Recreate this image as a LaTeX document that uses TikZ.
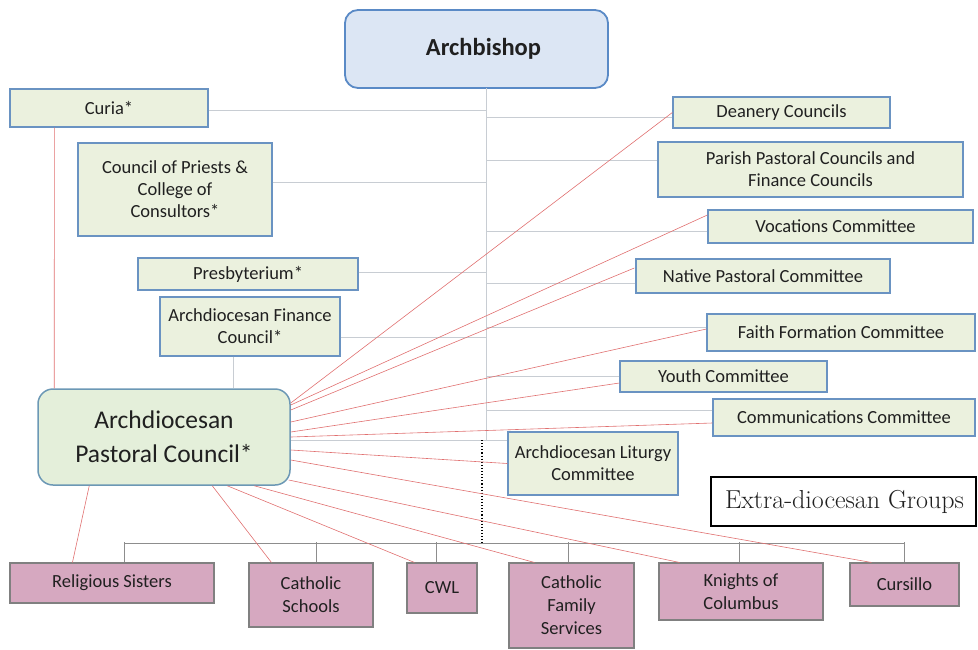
\documentclass[tikz,border=0pt]{standalone}
\usepackage{fontspec}
\newfontfamily\calfont{Carlito}
\usetikzlibrary{calc}
\definecolor{gfill}{HTML}{EBF1DE}
\definecolor{gbord}{HTML}{6A93C2}
\definecolor{afill}{HTML}{DCE6F4}
\definecolor{abord}{HTML}{5A8AC6}
\definecolor{pfill}{HTML}{D6A8C0}
\definecolor{pbord}{HTML}{808080}
\definecolor{pcfill}{HTML}{E4EFDA}
\definecolor{pcbord}{HTML}{6C98B5}
\definecolor{redl}{HTML}{E07070}
\definecolor{grayl}{HTML}{C8CDD3}
\definecolor{txt}{HTML}{202020}
\tikzset{
  gbox/.style 2 args={draw=gbord, fill=gfill, line width=1.3pt, text=txt, align=center,
    inner sep=0pt, minimum width=#1, minimum height=#2,
    font=\calfont\fontsize{18.5}{22}\selectfont},
  pbox/.style 2 args={draw=pbord, fill=pfill, line width=1.1pt, text=txt, align=center,
    inner sep=0pt, minimum width=#1, minimum height=#2,
    font=\calfont\fontsize{18.5}{23}\selectfont},
  redline/.style={draw=redl, line width=0.6pt},
  grayline/.style={draw=grayl, line width=0.8pt},
  barline/.style={draw=pbord!90, line width=0.9pt},
}
\begin{document}
\begin{tikzpicture}[x=1pt,y=-1pt]
\useasboundingbox (0,0) rectangle (978,649);
% ---------- nodes ----------
\node[draw=abord, fill=afill, line width=1.8pt, rounded corners=13pt, minimum width=263pt,
  minimum height=78pt, inner sep=0pt, text=txt, font=\calfont\bfseries\fontsize{24.5}{28}\selectfont]
  (arch) at (476.5,49) {\hspace*{14pt}Archbishop};
\node[gbox={198pt}{38pt}] (curia) at (109,108) {Curia*};
\node[gbox={194pt}{93pt}] (cop) at (175,189.5) {Council of Priests \&\\College of\\Consultors*};
\node[gbox={220pt}{32pt}] (presb) at (248,274) {Presbyterium*};
\node[gbox={180pt}{59pt}] (afc) at (250,326.5) {Archdiocesan Finance\\Council*};
\node[draw=pcbord, fill=pcfill, line width=1.5pt, rounded corners=15pt, minimum width=252pt,
  minimum height=96pt, inner sep=0pt, text=txt, align=center,
  font=\calfont\fontsize{25.5}{34}\selectfont] (apc) at (164,437) {Archdiocesan\\Pastoral Council*};
\node[gbox={217pt}{31pt}] (dean) at (781.5,112.5) {Deanery Councils};
\node[gbox={305pt}{55pt}] (parish) at (810.5,169.5) {Parish Pastoral Councils and\\Finance Councils};
\node[gbox={265pt}{33pt}] (voc) at (840.5,226.5) {\hspace*{-10pt}Vocations Committee};
\node[gbox={254pt}{34pt}] (native) at (763,276) {Native Pastoral Committee};
\node[gbox={268pt}{37pt}] (faith) at (841,332.5) {Faith Formation Committee};
\node[gbox={207pt}{31pt}] (youth) at (723.5,376.5) {Youth Committee};
\node[gbox={262pt}{37pt}] (comm) at (844,417.5) {Communications Committee};
\node[gbox={170pt}{63pt}] (litur) at (593,463.5) {Archdiocesan Liturgy\\Committee};
\node[draw=black, fill=white, line width=2.6pt, minimum width=265pt, minimum height=49pt,
  inner sep=0pt, text=txt, font=\rmfamily\fontsize{26}{28}\selectfont]
  (extra) at (843.5,501.5) {\hspace*{2pt}Extra-diocesan Groups};
\node[pbox={204pt}{40pt}] (rs) at (112,583) {Religious Sisters};
\node[pbox={124pt}{64pt}] (cs) at (311,595) {Catholic\\Schools};
\node[pbox={70pt}{50pt}] (cwl) at (442,588) {CWL};
\node[pbox={125pt}{85pt}] (cfs) at (571.5,605.5) {Catholic\\Family\\Services};
\node[pbox={164pt}{57pt}] (kc) at (741,591.5) {Knights of\\Columbus};
\node[pbox={109pt}{43pt}] (cur) at (904.5,584.5) {Cursillo};
% ---------- coordinates ----------
\coordinate (spT) at (486,88);
\coordinate (spB) at (486,440);
\coordinate (dotT) at (482,440);
\coordinate (barL) at (124,543);
\coordinate (barR) at (904,543);
% ---------- gray hierarchy lines ----------
\draw[grayline] (spT) -- (spB);
\coordinate (c1) at ([yshift=-2pt]curia.east);
\coordinate (c2) at ([yshift=7.5pt]cop.east);
\coordinate (c3) at ([yshift=2pt]presb.east);
\coordinate (c4) at ([yshift=-10.5pt]afc.east);
\coordinate (c5) at ([yshift=-3pt]apc.east);
\coordinate (d1) at ([yshift=-4.5pt]dean.west);
\coordinate (d2) at ([yshift=9.5pt]parish.west);
\coordinate (d3) at ([yshift=-4.5pt]voc.west);
\coordinate (d4) at ([yshift=-7pt]native.west);
\coordinate (d5) at ([yshift=5.5pt]faith.west);
\coordinate (d6) at (youth.west);
\coordinate (d7) at ([yshift=7.5pt]comm.west);
\coordinate (d8) at ([yshift=23.5pt]litur.west);
\foreach \p in {c1,c2,c3,c4,c5,d1,d2,d3,d4,d5,d6,d7,d8} \draw[grayline] (\p) -- (\p -| spT);
\draw[grayline] ([xshift=-17pt]afc.south) -- ([xshift=-17pt]afc.south |- apc.north);
% ---------- bottom bar ----------
\draw[barline] (barL) -- (barR);
\draw[barline] ($(rs.north)+(12,0)$) -- ++(0,-20);
\draw[barline] ($(cs.north)+(5,0)$) -- ++(0,-20);
\draw[barline] ($(cwl.north)+(-6,0)$) -- ++(0,-20);
\draw[barline] ($(cfs.north)+(-3.5,0)$) -- ++(0,-20);
\draw[barline] ($(kc.north)+(-2,0)$) -- ++(0,-20);
\draw[barline] (cur.north) -- ++(0,-20);
\draw[black, line width=1.1pt, dotted] (dotT) -- (dotT |- barL);
% ---------- red lines ----------
\draw[redline] (curia.south west) ++(45,0) -- ($(apc.north west)+(17,0)$);
\draw[redline] ($(apc.east)+(0,-34)$) -- (dean.west);
\draw[redline] ($(apc.east)+(0,-32)$) -- ($(voc.west)+(0,-11.5)$);
\draw[redline] ($(apc.east)+(0,-27)$) -- ($(native.west)+(-1,-8)$);
\draw[redline] ($(apc.east)+(0,-15)$) -- ($(faith.west)+(0,-3.5)$);
\draw[redline] ($(apc.east)+(0,-5)$) -- ($(youth.west)+(0,6.5)$);
\draw[redline] ($(apc.east)+(0,0)$) -- ($(comm.west)+(0,5.5)$);
\draw[redline] ($(apc.east)+(0,13)$) -- (litur.west);
\draw[redline] ($(apc.east)+(0,23)$) -- ($(cur.north west)+(22,0)$);
\draw[redline] ($(apc.east)+(-2,43)$) -- ($(kc.north west)+(21,0)$);
\draw[redline] ($(apc.south west)+(217,0)$) -- ($(cfs.north west)+(26,0)$);
\draw[redline] ($(apc.south west)+(190,0)$) -- ($(cwl.north west)+(8,0)$);
\draw[redline] ($(apc.south west)+(175,0)$) -- ($(cs.north west)+(23,0)$);
\draw[redline] ($(apc.south west)+(52,0)$) -- ($(rs.north west)+(63,0)$);
\end{tikzpicture}
\end{document}
